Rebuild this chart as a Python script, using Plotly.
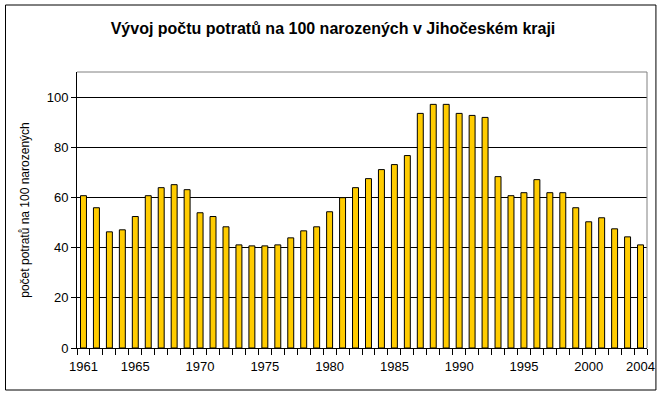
import plotly.graph_objects as go

years = list(range(1961, 2005))
values = [60.7, 55.9, 46.3, 47.1, 52.4, 60.7, 63.9, 65.1, 63.1, 53.9,
          52.4, 48.3, 41.1, 40.7, 40.7, 41.1, 43.9, 46.7, 48.3, 54.3,
          59.9, 63.9, 67.5, 71.1, 73.1, 76.7, 93.5, 97.1, 97.1, 93.5,
          92.7, 91.9, 68.3, 60.7, 61.9, 67.1, 61.9, 61.9, 55.9, 50.3,
          51.9, 47.5, 44.3, 41.1]
labeled_years = [1961, 1965, 1970, 1975, 1980, 1985, 1990, 1995, 2000, 2004]

title_text = "Vývoj počtu potratů na 100 narozených v Jihočeském kraji"
y_title = "počet potratů na 100 narozených"

boundaries = [y - 0.5 for y in years] + [years[-1] + 0.5]

fig = go.Figure(go.Bar(
    x=years, y=values,
    marker=dict(color="#FFCC00", line=dict(color="black", width=1)),
))

font = "Liberation Sans, Arial, sans-serif"
fig.update_layout(
    width=667, height=396,
    margin=dict(l=77, r=16, t=72, b=48),
    paper_bgcolor="white", plot_bgcolor="white",
    bargap=0.54,
    showlegend=False,
    font=dict(family=font, size=12, color="black"),
    title=dict(text="<b>" + title_text + "</b>", x=333/667, xref="container", xanchor="center",
               y=1 - 28/396, yanchor="middle", font=dict(size=16, family=font)),
    xaxis=dict(range=[years[0] - 0.5, years[-1] + 0.5], tickmode="array",
               tickvals=labeled_years, ticks="outside", ticklen=6, tickcolor="rgba(0,0,0,0)",
               minor=dict(tickmode="array", tickvals=boundaries, ticks="outside",
                          ticklen=6, tickcolor="black", tickwidth=1, showgrid=False),
               showline=True, linecolor="black", linewidth=1, showgrid=False,
               zeroline=False, tickfont=dict(size=13), tickangle=0),
    yaxis=dict(range=[0, 110], tickvals=[0, 20, 40, 60, 80, 100], ticks="outside",
               ticklen=5, tickcolor="black", showline=True, linecolor="black",
               showgrid=True, gridcolor="black", gridwidth=1, zeroline=False,
               tickfont=dict(size=13),
               title=dict(text=y_title, font=dict(size=12), standoff=14)),
    shapes=[
        dict(type="line", xref="paper", yref="paper", x0=0, x1=1, y0=1, y1=1,
             line=dict(color="#808080", width=1)),
        dict(type="line", xref="paper", yref="paper", x0=1, x1=1, y0=0, y1=1,
             line=dict(color="#808080", width=1)),
        dict(type="rect", xref="paper", yref="paper",
             x0=(5 - 77) / 574, x1=(660 - 77) / 574,
             y0=(348 - 390) / 276, y1=(348 - 5) / 276,
             line=dict(color="black", width=1), fillcolor="rgba(0,0,0,0)"),
    ],
)

fig.write_html("out.html", config={"displayModeBar": False},
               post_script="document.body.style.margin='0';document.body.style.overflow='hidden';")
